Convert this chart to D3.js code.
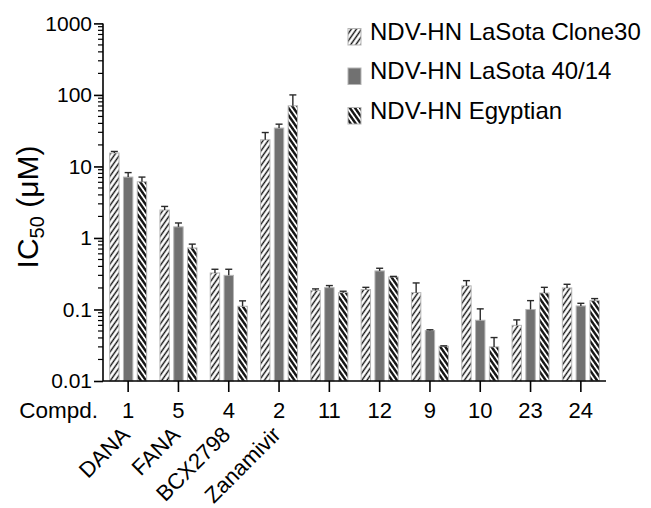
<!DOCTYPE html>
<html><head><meta charset="utf-8">
<script src="https://cdn.jsdelivr.net/npm/d3@7"></script>
<style>body{margin:0;background:#fff;} text{font-family:"Liberation Sans",Arial,sans-serif;fill:#000;}</style>
</head><body><svg id="c" width="651" height="508"></svg>
<script>
const compounds = ["1","5","4","2","11","12","9","10","23","24"];
const names = ["DANA","FANA","BCX2798","Zanamivir"];
const seriesNames = ["NDV-HN LaSota Clone30","NDV-HN LaSota 40/14","NDV-HN Egyptian"];
const clone30 = [15.4, 2.46, 0.324, 23.6, 0.184, 0.19, 0.172, 0.214, 0.060, 0.20];
const clone30Err = [16.2, 2.76, 0.365, 29.8, 0.194, 0.204, 0.235, 0.253, 0.0715, 0.225];
const la4014 = [7.1, 1.43, 0.30, 34.4, 0.202, 0.346, 0.0507, 0.0707, 0.10, 0.112];
const la4014Err = [8.2, 1.62, 0.365, 39, 0.216, 0.377, 0.052, 0.102, 0.133, 0.122];
const egypt = [6.1, 0.725, 0.111, 70.4, 0.172, 0.285, 0.0306, 0.030, 0.17, 0.133];
const egyptErr = [7.1, 0.82, 0.132, 100, 0.18, 0.29, 0.031, 0.0405, 0.204, 0.142];
const yTicks = [0.01, 0.1, 1, 10, 100, 1000];

const svg = d3.select("#c");
const defs = svg.append("defs");
function hatch(id, dir, sw, gap){
  const p = defs.append("pattern").attr("id", id).attr("patternUnits","userSpaceOnUse")
    .attr("width", gap).attr("height", gap)
    .attr("patternTransform", `rotate(${dir})`);
  p.append("rect").attr("width", gap).attr("height", gap).attr("fill","#fff");
  p.append("line").attr("x1", gap/2).attr("x2", gap/2).attr("y1", 0).attr("y2", gap)
    .attr("stroke","#111").attr("stroke-width", sw);
}
hatch("h1", 35, 1.4, 4.2);
hatch("h3", -35, 2.4, 4.2);
const fills = ["url(#h1)", "#717171", "url(#h3)"];

const pL = 103, pR = 606, pT = 23.4, pB = 381;
const x = d3.scaleBand().domain(compounds).range([pL, pR]).paddingInner(0).paddingOuter(0);
const sub = d3.scaleBand().domain([0,1,2]).range([x.bandwidth()/2 - 18.5, x.bandwidth()/2 + 18.5]).paddingInner(0.32);
const y = d3.scaleLog().domain([0.01, 1000]).range([pB, pT]);

const data = [clone30, la4014, egypt];
const errs = [clone30Err, la4014Err, egyptErr];

data.forEach((vals, s) => {
  const g = svg.append("g");
  g.selectAll("rect").data(compounds).join("rect")
    .attr("x", (c) => x(c) + sub(s))
    .attr("width", sub.bandwidth())
    .attr("y", (c, i) => y(vals[i]))
    .attr("height", (c, i) => y(0.01) - y(vals[i]))
    .attr("fill", fills[s])
    .attr("stroke", "#b5b5b5").attr("stroke-width", 1);
  const eg = svg.append("g").attr("stroke", "#2a2a2a").attr("stroke-width", 1.4);
  compounds.forEach((c, i) => {
    const cx = x(c) + sub(s) + sub.bandwidth()/2;
    eg.append("line").attr("x1", cx).attr("x2", cx).attr("y1", y(vals[i])).attr("y2", y(errs[s][i]));
    eg.append("line").attr("x1", cx - 3.5).attr("x2", cx + 3.5).attr("y1", y(errs[s][i])).attr("y2", y(errs[s][i]));
  });
});

const minor = [];
for (let e = -2; e < 3; e++) for (let k = 2; k <= 9; k++) minor.push(k * Math.pow(10, e));
const ya = svg.append("g").attr("transform", `translate(${pL},0)`);
ya.append("line").attr("x1", 0).attr("x2", 0).attr("y1", y(1000)).attr("y2", y(0.01)).attr("stroke","#000").attr("stroke-width",1.6);
ya.selectAll("line.mi").data(minor).join("line").attr("class","mi")
  .attr("x1", -5).attr("x2", 0).attr("y1", d => y(d)).attr("y2", d => y(d)).attr("stroke","#000").attr("stroke-width",1.2);
ya.call(d3.axisLeft(y).tickValues(yTicks).tickFormat(d => String(d)).tickSize(9).tickPadding(2))
  .call(g => g.select(".domain").remove())
  .call(g => g.selectAll(".tick line").attr("stroke-width",1.6))
  .call(g => g.selectAll("text").attr("font-size", 21).attr("font-family", "Liberation Sans, Arial, sans-serif"));

const xa = svg.append("g").attr("transform", `translate(0,${pB})`);
xa.call(d3.axisBottom(x).tickSize(11).tickPadding(10))
  .call(g => g.select(".domain").attr("d", `M${pL},0H${pR}`).attr("stroke-width",1.6))
  .call(g => g.selectAll(".tick line").attr("stroke-width",1.6))
  .call(g => g.selectAll("text").attr("font-size", 22).attr("font-family", "Liberation Sans, Arial, sans-serif"));
svg.append("text").attr("x", 98).attr("y", 418).attr("text-anchor","end").attr("font-size", 22.5).text("Compd.");

names.forEach((n, i) => {
  const cx = x(compounds[i]) + x.bandwidth()/2 + 3;
  svg.append("text").attr("transform", `translate(${cx},436) rotate(-45)`)
    .attr("text-anchor","end").attr("font-size", 22).text(n);
});

const yt = svg.append("text").attr("transform", "translate(38,207) rotate(-90)").attr("text-anchor","middle").attr("font-size", 30);
yt.append("tspan").text("IC");
yt.append("tspan").attr("font-size", 20).attr("dy", 6).text("50");
yt.append("tspan").attr("dy", -6).text(" (μM)");

seriesNames.forEach((n, i) => {
  const ly = 39.5 + i * 39.5;
  svg.append("rect").attr("x", 348).attr("y", ly - 11).attr("width", 13).attr("height", 16.5)
    .attr("fill", fills[i]).attr("stroke", "#b5b5b5").attr("stroke-width", 1);
  svg.append("text").attr("x", 370).attr("y", ly).attr("font-size", 24).text(n);
});
</script></body></html>
